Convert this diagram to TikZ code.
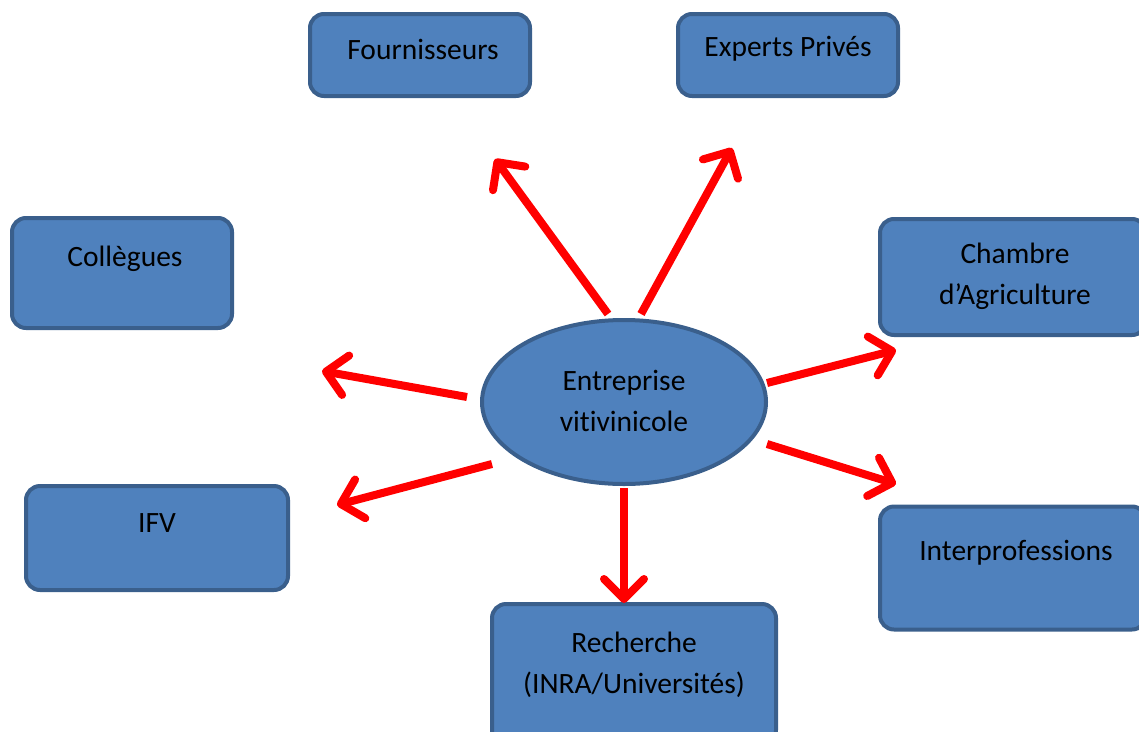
\documentclass[tikz,border=0pt]{standalone}
\usepackage{fontspec}
\setmainfont[Ligatures=NoCommon]{Carlito}
\usetikzlibrary{arrows.meta,shapes.geometric}
\definecolor{boxfill}{HTML}{4F81BD}
\definecolor{boxline}{HTML}{3A5F8C}
\definecolor{arrowred}{HTML}{FF0000}
\tikzset{
  box/.style={draw=boxline, fill=boxfill, line width=4pt, rounded corners=14pt, inner sep=0pt},
  ell/.style={draw=boxline, fill=boxfill, line width=4pt, ellipse, inner sep=0pt},
  lbl/.style={font=\fontsize{29.5}{41}\selectfont, align=center, inner sep=0pt, text=black},
  rarrow/.style={draw=arrowred, line width=8pt, -{Straight Barb[length=20pt, width=40pt, line cap=round, line join=round]}}
}
\begin{document}
\begin{tikzpicture}[x=1pt,y=-1pt]
\useasboundingbox (0,0) rectangle (1139,731);
% boxes
\node[box, minimum width=220pt, minimum height=82pt] (four) at (420,55) {};
\node[lbl] (fourt) at (423,49) {Fournisseurs};
\node[box, minimum width=220pt, minimum height=82pt] (exp) at (788,55) {};
\node[lbl] (expt) at (788,49) {Experts Privés};
\node[box, minimum width=220pt, minimum height=110pt] (col) at (122,273) {};
\node[lbl] (colt) at (125,259) {Collègues};
\node[box, minimum width=266pt, minimum height=116pt] (cha) at (1013,277) {};
\node[lbl] (chat) at (1015,276) {Chambre\\d’Agriculture};
\node[box, minimum width=262pt, minimum height=104pt] (ifv) at (157,538) {};
\node[lbl] (ifvt) at (157,523) {IFV};
\node[box, minimum width=266pt, minimum height=123pt] (int) at (1013,568) {};
\node[lbl] (intt) at (1016,553) {Interprofessions};
\node[box, minimum width=284pt, minimum height=140pt] (rec) at (634,674) {};
\node[lbl] (rect) at (634,665) {Recherche\\(INRA/Universités)};
\node[ell, minimum width=284pt, minimum height=164pt] (ent) at (624,402) {};
\node[lbl] (entt) at (624,401) {Entreprise\\vitivinicole};
% arrow coordinates
\coordinate (s1) at (608,314); \coordinate (t1) at (495,159);
\coordinate (s2) at (641,314); \coordinate (t2) at (732,148);
\coordinate (s3) at (467,397); \coordinate (t3) at (322,371);
\coordinate (s4) at (492,464); \coordinate (t4) at (337,505);
\coordinate (s5) at (767,383); \coordinate (t5) at (896,350);
\coordinate (s6) at (767,444); \coordinate (t6) at (896,484);
\coordinate (s7) at (624,488); \coordinate (t7) at (624,603);
\foreach \i in {1,...,7} { \draw[rarrow] (s\i) -- (t\i); }
\end{tikzpicture}
\end{document}
